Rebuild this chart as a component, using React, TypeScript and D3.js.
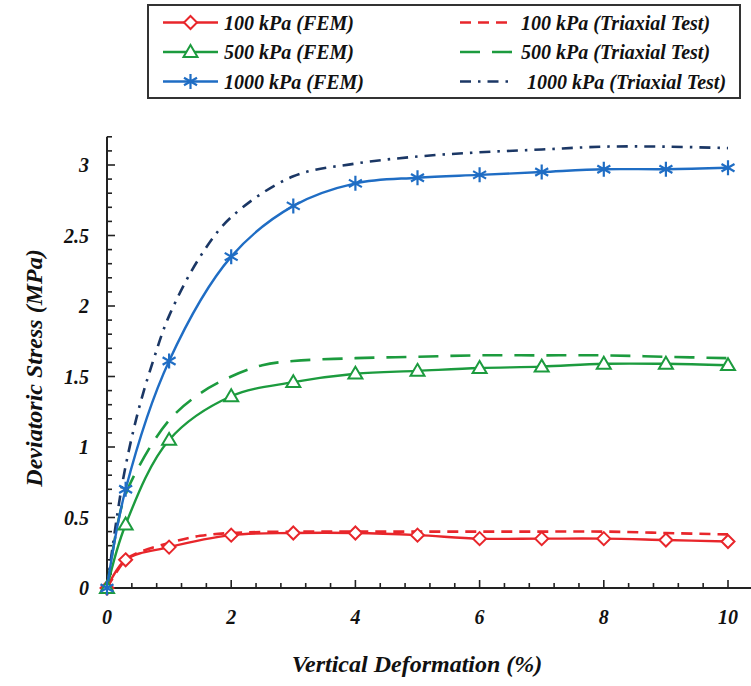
import React from "react";
import * as d3 from "d3";

// ---------- data ----------
const femX = [0, 0.3, 1, 2, 3, 4, 5, 6, 7, 8, 9, 10];
const fem100 = [0, 0.2, 0.29, 0.375, 0.39, 0.39, 0.375, 0.35, 0.35, 0.35, 0.34, 0.33];
const fem500 = [0, 0.45, 1.05, 1.36, 1.46, 1.52, 1.54, 1.56, 1.57, 1.59, 1.59, 1.58];
const fem1000 = [0, 0.7, 1.61, 2.35, 2.71, 2.87, 2.91, 2.93, 2.95, 2.97, 2.97, 2.98];

const triX100 = [0, 0.3, 0.5, 1, 1.5, 2, 3, 4, 5, 6, 7, 8, 9, 10];
const tri100 = [0, 0.2, 0.25, 0.32, 0.37, 0.39, 0.4, 0.4, 0.4, 0.4, 0.4, 0.4, 0.39, 0.38];
const triX500 = [0, 0.25, 0.5, 1, 1.5, 2, 2.5, 3, 4, 5, 6, 7, 8, 9, 10];
const tri500 = [0, 0.6, 0.85, 1.19, 1.38, 1.5, 1.58, 1.61, 1.63, 1.64, 1.65, 1.65, 1.65, 1.64, 1.63];
const triX1000 = [0, 0.25, 0.5, 0.75, 1, 1.5, 2, 3, 4, 5, 6, 7, 8, 9, 10];
const tri1000 = [0, 0.75, 1.25, 1.62, 1.93, 2.35, 2.63, 2.92, 3.01, 3.06, 3.09, 3.11, 3.13, 3.13, 3.12];

const xMajorTicks = [0, 2, 4, 6, 8, 10];
const yMajorTicks = [0, 0.5, 1, 1.5, 2, 2.5, 3];
const yTickLabels = ["0", "0.5", "1", "1.5", "2", "2.5", "3"];

const legendLabelsFEM = ["100 kPa (FEM)", "500 kPa (FEM)", "1000 kPa (FEM)"];
const legendLabelsTri = ["100 kPa (Triaxial Test)", "500 kPa (Triaxial Test)", "1000 kPa (Triaxial Test)"];

const xTitle = "Vertical Deformation (%)";
const yTitle = "Deviatoric Stress (MPa)";

// ---------- styles ----------
const RED = "#e8262b";
const GREEN = "#1c9b3e";
const BLUE = "#1f6dc4";
const NAVY = "#1b3765";
const AXIS = "#222";
const FONT = "'Liberation Serif', 'Times New Roman', serif";

const x = d3.scaleLinear().domain([0, 10]).range([107, 728]);
const y = d3.scaleLinear().domain([0, 3]).range([588, 165]);

const line = d3
  .line<[number, number]>()
  .x((d) => x(d[0]))
  .y((d) => y(d[1]))
  .curve(d3.curveCatmullRom.alpha(0.5));

const zip = (xs: number[], ys: number[]) => xs.map((v, i) => [v, ys[i]] as [number, number]);

function Diamond({ cx, cy, c }: { cx: number; cy: number; c: string }) {
  const r = 6.5;
  return (
    <path
      d={`M${cx},${cy - r}L${cx + r},${cy}L${cx},${cy + r}L${cx - r},${cy}Z`}
      fill="#fff"
      stroke={c}
      strokeWidth={2}
    />
  );
}
function Triangle({ cx, cy, c }: { cx: number; cy: number; c: string }) {
  const r = 7;
  return (
    <path
      d={`M${cx},${cy - r}L${cx + r},${cy + r * 0.7}L${cx - r},${cy + r * 0.7}Z`}
      fill="#fff"
      stroke={c}
      strokeWidth={2}
    />
  );
}
function Star({ cx, cy, c }: { cx: number; cy: number; c: string }) {
  const r = 7.5;
  const segs = [90, 30, 150].map((a) => {
    const t = (a * Math.PI) / 180;
    const dx = r * Math.cos(t);
    const dy = r * Math.sin(t);
    return `M${cx - dx},${cy - dy}L${cx + dx},${cy + dy}`;
  });
  return <path d={segs.join("")} stroke={c} strokeWidth={2.2} fill="none" />;
}

export default function App() {
  const xMinor = d3.range(0, 10.41, 0.4);
  const yMinor = d3.range(0, 3.21, 0.1);
  const femSeries = [
    { ys: fem100, c: RED, M: Diamond },
    { ys: fem500, c: GREEN, M: Triangle },
    { ys: fem1000, c: BLUE, M: Star },
  ];
  const triSeries = [
    { xs: triX100, ys: tri100, c: RED, dash: "11,7" },
    { xs: triX500, ys: tri500, c: GREEN, dash: "20,12" },
    { xs: triX1000, ys: tri1000, c: NAVY, dash: "11,7,2.5,7" },
  ];
  const legendRows = [22.5, 52, 81.5];
  return (
    <svg
      width={751}
      height={686}
      style={{ position: "absolute", left: 0, top: 0, background: "#fff" }}
      fontFamily={FONT}
    >
      <rect x={0} y={0} width={751} height={686} fill="#fff" />
      {/* axes */}
      <line x1={x(0)} x2={751} y1={y(0)} y2={y(0)} stroke={AXIS} strokeWidth={2} />
      <line x1={x(0)} x2={x(0)} y1={y(0)} y2={y(3.2)} stroke={AXIS} strokeWidth={2} />
      {xMinor.map((v, i) => {
        const major = Math.abs(v / 2 - Math.round(v / 2)) < 1e-6;
        return (
          <line key={"xm" + i} x1={x(v)} x2={x(v)} y1={y(0)} y2={y(0) - (major ? 8 : 5)} stroke={AXIS} strokeWidth={1.6} />
        );
      })}
      {yMinor.map((v, i) => {
        const major = Math.abs(v * 2 - Math.round(v * 2)) < 1e-6;
        return (
          <line key={"ym" + i} x1={x(0)} x2={x(0) + (major ? 8 : 5)} y1={y(v)} y2={y(v)} stroke={AXIS} strokeWidth={1.6} />
        );
      })}
      {xMajorTicks.map((v) => (
        <text key={"xl" + v} x={x(v)} y={624} textAnchor="middle" fontSize={20} fontWeight="bold" fontStyle="italic" fill="#111">
          {v}
        </text>
      ))}
      {yMajorTicks.map((v, i) => (
        <text key={"yl" + v} x={89} y={y(v) + 7} textAnchor="end" fontSize={20} fontWeight="bold" fontStyle="italic" fill="#111">
          {yTickLabels[i]}
        </text>
      ))}
      <text x={417} y={672} textAnchor="middle" fontSize={24} fontWeight="bold" fontStyle="italic" fill="#111">
        {xTitle}
      </text>
      <text
        transform={`translate(42,368) rotate(-90)`}
        textAnchor="middle"
        fontSize={24}
        fontWeight="bold"
        fontStyle="italic"
        fill="#111"
      >
        {yTitle}
      </text>

      {/* triaxial curves */}
      {triSeries.map((s, i) => (
        <path key={"t" + i} d={line(zip(s.xs, s.ys)) || ""} fill="none" stroke={s.c} strokeWidth={2.6} strokeDasharray={s.dash} />
      ))}
      {/* FEM curves */}
      {femSeries.map((s, i) => (
        <path key={"f" + i} d={line(zip(femX, s.ys)) || ""} fill="none" stroke={s.c} strokeWidth={2.4} />
      ))}
      {femSeries.map((s, i) =>
        femX.map((v, j) => <s.M key={"m" + i + "_" + j} cx={x(v)} cy={y(s.ys[j])} c={s.c} />)
      )}

      {/* legend */}
      <rect x={148} y={5} width={592} height={93} fill="#fff" stroke="#333" strokeWidth={2} />
      {femSeries.map((s, i) => (
        <g key={"lf" + i}>
          <line x1={163} x2={218} y1={legendRows[i]} y2={legendRows[i]} stroke={s.c} strokeWidth={2.4} />
          <s.M cx={190.5} cy={legendRows[i]} c={s.c} />
          <text x={224} y={legendRows[i] + 7} fontSize={20} fontWeight="bold" fontStyle="italic" fill="#111">
            {legendLabelsFEM[i]}
          </text>
        </g>
      ))}
      {triSeries.map((s, i) => (
        <g key={"lt" + i}>
          <line
            x1={460}
            x2={513}
            y1={legendRows[i]}
            y2={legendRows[i]}
            stroke={s.c}
            strokeWidth={2.6}
            strokeDasharray={s.dash}
          />
          <text x={i === 2 ? 527 : 521} y={legendRows[i] + 7} fontSize={20} fontWeight="bold" fontStyle="italic" fill="#111">
            {legendLabelsTri[i]}
          </text>
        </g>
      ))}
    </svg>
  );
}
